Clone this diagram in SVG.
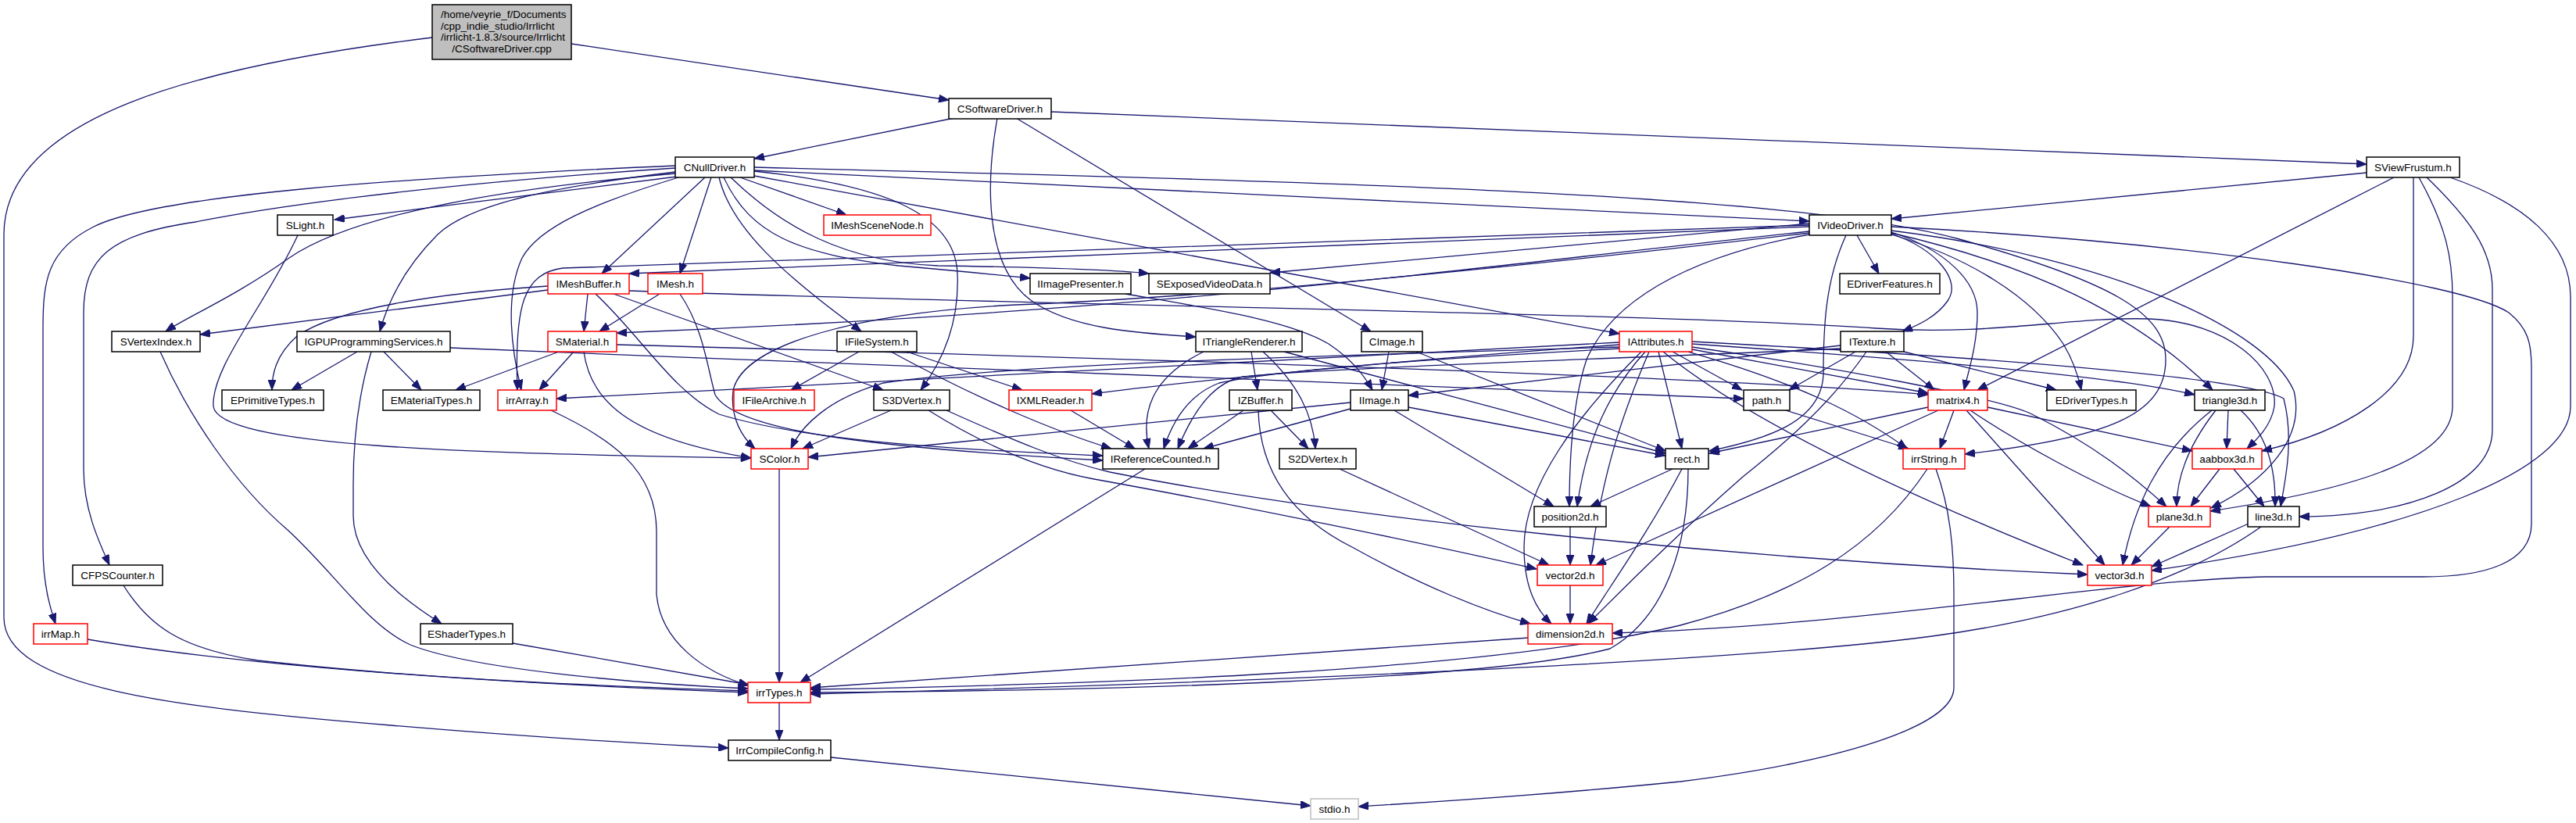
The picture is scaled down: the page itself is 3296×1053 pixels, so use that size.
<svg xmlns="http://www.w3.org/2000/svg" width="3296" height="1053" viewBox="0 0 3296 1053">
<defs>
<marker id="a" markerWidth="14" markerHeight="10" refX="13" refY="5" orient="auto" markerUnits="userSpaceOnUse"><path d="M0,0 L13,5 L0,10 z" fill="#191970" stroke="#191970" stroke-width="1"/></marker>
<style>
.n rect{fill:#fff;stroke:#000;stroke-width:1.5}
.n.r rect{stroke:#ff0000}
.n.g rect{stroke:#bfbfbf}
.root rect{fill:#bfbfbf;stroke:#000;stroke-width:1.5}
text{font-family:"Liberation Sans",Arial,sans-serif;font-size:13.5px;text-anchor:middle;fill:#000}
.root text.l{text-anchor:start}
.e path{fill:none;stroke:#191970;stroke-width:1.3;marker-end:url(#a)}
</style>
</defs>
<rect width="3296" height="1053" fill="#fff"/>
<g id="edges" class="e">
<path d="M731,56 L1214,128"/>
<path d="M553,48 C250,85 5,150 5,300 L5,790 C5,880 220,905 500,928 C700,945 850,953 932,957"/>
<path d="M1221,151 L965,203"/>
<path d="M1345,143 L3028,210"/>
<path d="M1276,151 C1262,230 1258,340 1320,385 C1370,420 1450,426 1530,431"/>
<path d="M1300,151 L1754,424"/>
<path d="M965,218 L2315,283"/>
<path d="M965,214 C1800,235 2300,250 2507,306 C2700,360 2771,400 2771,460 C2771,530 2700,560 2514,581"/>
<path d="M920,227 C935,290 1000,350 1102,424"/>
<path d="M926,227 C960,300 1020,325 1150,340 C1230,347 1280,352 1318,356"/>
<path d="M935,227 C1000,290 1080,335 1200,340 C1340,342 1420,345 1470,350"/>
<path d="M864,220 C700,240 600,262 560,300 C520,340 498,380 486,424"/>
<path d="M868,227 C760,260 690,290 668,330 C645,380 655,450 667,499"/>
<path d="M864,212 C500,228 200,250 120,290 C60,320 55,360 55,420 L55,700 C55,750 65,780 71,798"/>
<path d="M864,215 C520,238 330,268 250,284 C140,300 107,330 107,400 L107,600 C107,650 125,690 140,723"/>
<path d="M864,222 C600,245 440,282 370,330 C300,380 240,405 212,424"/>
<path d="M866,226 L428,281"/>
<path d="M902,227 L770,350"/>
<path d="M910,227 L870,350"/>
<path d="M947,227 L1083,275"/>
<path d="M965,219 C1120,235 1222,270 1225,350 C1228,420 1200,470 1178,499"/>
<path d="M965,225 L2072,427"/>
<path d="M3028,221 L2420,280"/>
<path d="M3063,227 L2530,499"/>
<path d="M3088,227 L3088,430 C3088,500 3000,552 2894,577"/>
<path d="M3095,227 C3130,290 3138,330 3138,380 L3138,520 C3138,590 3000,628 2828,654"/>
<path d="M3105,227 C3160,280 3189,320 3189,370 L3189,550 C3189,620 3080,660 2942,661"/>
<path d="M3135,227 C3230,260 3289,310 3289,380 L3289,520 C3289,600 3100,680 2753,730"/>
<path d="M2315,290 L805,350"/>
<path d="M2315,296 C1900,340 1500,398 789,426"/>
<path d="M2315,288 C1500,315 900,335 720,343 C670,350 658,390 662,499"/>
<path d="M2315,298 C2000,335 1600,378 1300,390 C1100,400 950,440 938,500 C934,535 950,560 966,574"/>
<path d="M2315,300 C2150,330 2060,390 2030,460 C2010,520 2008,600 2008,648"/>
<path d="M2362,301 C2335,360 2333,420 2333,480 C2330,540 2260,562 2187,577"/>
<path d="M2420,290 C2800,310 3150,360 3210,400 C3235,420 3239,440 3239,470 L3239,670 C3239,720 3180,738 3100,738 L2900,738 C2700,742 2400,800 2063,810"/>
<path d="M2420,299 C2480,320 2510,360 2492,385 C2478,405 2455,416 2434,424"/>
<path d="M2376,301 L2404,350"/>
<path d="M2420,297 C2490,320 2530,360 2530,400 C2530,440 2520,470 2513,499"/>
<path d="M2420,300 C2520,330 2600,380 2640,440 C2655,465 2660,485 2663,499"/>
<path d="M2420,298 C2600,340 2730,400 2831,499"/>
<path d="M2420,295 C2700,330 2900,420 2935,500 C2950,560 2900,615 2829,650"/>
<path d="M2315,286 L1625,349"/>
<path d="M752,376 L747,424"/>
<path d="M701,371 L256,428"/>
<path d="M701,366 C560,375 430,395 380,430 C352,455 348,480 348,499"/>
<path d="M785,376 L1130,499"/>
<path d="M762,376 C820,430 860,500 920,530 C1050,570 1300,578 1411,583"/>
<path d="M805,372 C1300,390 2100,400 2400,420 C2550,430 2650,405 2750,408 C2850,412 2915,470 2910,520 C2906,545 2888,562 2875,574"/>
<path d="M844,376 L767,424"/>
<path d="M870,376 C900,420 905,470 915,505 C940,550 1100,572 1411,589"/>
<path d="M734,450 L690,499"/>
<path d="M715,450 L583,499"/>
<path d="M747,450 C755,510 800,560 961,586"/>
<path d="M789,441 C1500,460 2200,482 2467,505"/>
<path d="M705,525 C780,560 840,600 840,680 L840,760 C845,820 900,860 958,877"/>
<path d="M457,450 L373,499"/>
<path d="M491,450 L539,499"/>
<path d="M475,450 C460,500 452,560 452,620 L452,660 C452,720 520,770 565,798"/>
<path d="M576,445 C1200,470 1900,500 2231,510"/>
<path d="M205,450 C240,530 300,620 368,678 C430,735 470,800 525,825 C600,855 800,874 957,881"/>
<path d="M381,301 C340,390 270,470 273,520 C280,572 600,580 961,586"/>
<path d="M158,749 C190,800 230,830 330,845 C550,870 800,879 957,884"/>
<path d="M112,818 C300,850 600,873 957,886"/>
<path d="M656,823 L958,876"/>
<path d="M1063,969 L1677,1031"/>
<path d="M997,899 L997,947"/>
<path d="M997,600 L997,873"/>
<path d="M1465,600 L1024,873"/>
<path d="M1099,450 L1012,499"/>
<path d="M1160,450 L1308,499"/>
<path d="M1140,450 C1250,510 1350,552 1422,574"/>
<path d="M1370,525 L1452,574"/>
<path d="M1140,525 L1027,574"/>
<path d="M1211,525 C1300,565 1360,590 1420,604 C1700,660 2200,715 2671,735"/>
<path d="M1188,525 C1260,570 1330,600 1400,613 C1550,640 1800,690 1966,728"/>
<path d="M1601,450 L1609,499"/>
<path d="M1616,450 C1660,490 1680,530 1683,574"/>
<path d="M1540,450 C1480,480 1458,520 1470,574"/>
<path d="M1643,450 L2131,580"/>
<path d="M1626,525 L1674,574"/>
<path d="M1591,525 L1520,574"/>
<path d="M1610,525 C1612,600 1650,660 1730,700 C1820,750 1900,782 1958,798"/>
<path d="M1714,600 L1982,723"/>
<path d="M1777,450 L1768,499"/>
<path d="M1812,450 L2131,577"/>
<path d="M1784,525 L1988,648"/>
<path d="M1802,521 L2131,583"/>
<path d="M1728,523 L1540,574"/>
<path d="M1728,515 L1034,585"/>
<path d="M1440,376 C1550,395 1650,410 1700,440 C1730,460 1745,480 1756,499"/>
<path d="M2374,450 L2289,499"/>
<path d="M2413,450 L2475,499"/>
<path d="M2436,450 L2631,499"/>
<path d="M2388,450 C2340,520 2280,570 2230,610 C2150,680 2080,750 2032,798"/>
<path d="M2355,442 L1802,506"/>
<path d="M2355,446 C2100,458 1700,470 1590,482 C1550,490 1525,530 1507,574"/>
<path d="M2072,446 C1900,455 1650,470 1560,490 C1520,505 1500,540 1489,574"/>
<path d="M2072,444 C1700,455 1300,465 1130,490 C1060,510 1025,545 1012,574"/>
<path d="M2072,438 L712,510"/>
<path d="M2072,441 C1800,460 1500,490 1397,504"/>
<path d="M2105,450 C2060,500 2030,560 2018,648"/>
<path d="M2110,450 C2080,520 2050,600 2035,723"/>
<path d="M2100,450 C2020,530 1950,620 1950,700 C1950,750 1965,780 1985,798"/>
<path d="M2122,450 L2152,574"/>
<path d="M2140,450 L2229,499"/>
<path d="M2128,450 C2250,550 2480,650 2665,723"/>
<path d="M2160,450 C2300,490 2380,530 2440,574"/>
<path d="M2165,447 L2467,503"/>
<path d="M2165,444 C2350,470 2560,510 2600,530 C2680,570 2730,610 2772,648"/>
<path d="M2165,440 C2450,460 2700,480 2808,505"/>
<path d="M2165,437 C2500,455 2870,480 2922,510 C2935,560 2925,610 2918,648"/>
<path d="M2500,525 L2482,574"/>
<path d="M2516,525 L2693,723"/>
<path d="M2521,525 C2580,565 2680,620 2752,648"/>
<path d="M2543,521 L2805,577"/>
<path d="M2467,521 L2187,580"/>
<path d="M2480,525 L2042,723"/>
<path d="M2477,600 C2495,650 2500,700 2500,760 L2500,880 C2500,930 2350,975 2150,1000 C1950,1020 1800,1028 1738,1032"/>
<path d="M2466,600 C2400,700 2300,760 2150,800 C1900,860 1400,876 1037,882"/>
<path d="M1956,816 L1037,880"/>
<path d="M2140,600 L2035,648"/>
<path d="M2152,600 C2110,680 2060,750 2030,798"/>
<path d="M2160,600 C2160,700 2130,790 2060,830 C1900,872 1400,884 1037,886"/>
<path d="M2009,749 L2009,798"/>
<path d="M2009,674 L2009,723"/>
<path d="M2835,525 C2800,570 2785,610 2785,648"/>
<path d="M2830,525 C2760,580 2730,650 2716,723"/>
<path d="M2851,525 L2849,574"/>
<path d="M2867,525 C2900,555 2912,600 2911,648"/>
<path d="M2840,600 L2803,648"/>
<path d="M2858,600 L2897,648"/>
<path d="M2776,674 L2727,723"/>
<path d="M2877,670 L2753,725"/>
<path d="M2893,674 C2800,740 2650,790 2472,814 C2200,850 1500,876 1037,888"/>
<path d="M2285,525 L2442,574"/>
</g>
<g id="n_root" class="root"><rect x="553" y="6" width="178" height="70"/><text class="l" x="564" y="23">/home/veyrie_f/Documents</text><text class="l" x="564" y="37.5">/cpp_indie_studio/Irrlicht</text><text class="l" x="564" y="52">/irrlicht-1.8.3/source/Irrlicht</text><text x="642" y="67">/CSoftwareDriver.cpp</text></g>
<g id="n_CSoftwareDriver" class="n"><rect x="1214" y="126" width="131" height="26"/><text x="1279.5" y="144">CSoftwareDriver.h</text></g>
<g id="n_CNullDriver" class="n"><rect x="864" y="201" width="101" height="26"/><text x="914.5" y="219">CNullDriver.h</text></g>
<g id="n_SViewFrustum" class="n"><rect x="3028" y="201" width="119" height="26"/><text x="3087.5" y="219">SViewFrustum.h</text></g>
<g id="n_SLight" class="n"><rect x="355" y="275" width="71" height="26"/><text x="390.5" y="293">SLight.h</text></g>
<g id="n_IMeshSceneNode" class="n r"><rect x="1054" y="275" width="137" height="26"/><text x="1122.5" y="293">IMeshSceneNode.h</text></g>
<g id="n_IVideoDriver" class="n"><rect x="2315" y="275" width="105" height="26"/><text x="2367.5" y="293">IVideoDriver.h</text></g>
<g id="n_IMeshBuffer" class="n r"><rect x="701" y="350" width="104" height="26"/><text x="753" y="368">IMeshBuffer.h</text></g>
<g id="n_IMesh" class="n r"><rect x="829" y="350" width="70" height="26"/><text x="864" y="368">IMesh.h</text></g>
<g id="n_IImagePresenter" class="n"><rect x="1318" y="350" width="129" height="26"/><text x="1382.5" y="368">IImagePresenter.h</text></g>
<g id="n_SExposedVideoData" class="n"><rect x="1470" y="350" width="155" height="26"/><text x="1547.5" y="368">SExposedVideoData.h</text></g>
<g id="n_EDriverFeatures" class="n"><rect x="2354" y="350" width="128" height="26"/><text x="2418" y="368">EDriverFeatures.h</text></g>
<g id="n_SVertexIndex" class="n"><rect x="143" y="424" width="113" height="26"/><text x="199.5" y="442">SVertexIndex.h</text></g>
<g id="n_IGPUProgrammingServices" class="n"><rect x="380" y="424" width="196" height="26"/><text x="478" y="442">IGPUProgrammingServices.h</text></g>
<g id="n_SMaterial" class="n r"><rect x="701" y="424" width="88" height="26"/><text x="745" y="442">SMaterial.h</text></g>
<g id="n_IFileSystem" class="n"><rect x="1071" y="424" width="102" height="26"/><text x="1122" y="442">IFileSystem.h</text></g>
<g id="n_ITriangleRenderer" class="n"><rect x="1530" y="424" width="136" height="26"/><text x="1598" y="442">ITriangleRenderer.h</text></g>
<g id="n_CImage" class="n"><rect x="1742" y="424" width="78" height="26"/><text x="1781" y="442">CImage.h</text></g>
<g id="n_IAttributes" class="n r"><rect x="2072" y="424" width="93" height="26"/><text x="2118.5" y="442">IAttributes.h</text></g>
<g id="n_ITexture" class="n"><rect x="2355" y="424" width="81" height="26"/><text x="2395.5" y="442">ITexture.h</text></g>
<g id="n_EPrimitiveTypes" class="n"><rect x="284" y="499" width="130" height="26"/><text x="349" y="517">EPrimitiveTypes.h</text></g>
<g id="n_EMaterialTypes" class="n"><rect x="490" y="499" width="124" height="26"/><text x="552" y="517">EMaterialTypes.h</text></g>
<g id="n_irrArray" class="n r"><rect x="637" y="499" width="75" height="26"/><text x="674.5" y="517">irrArray.h</text></g>
<g id="n_IFileArchive" class="n r"><rect x="939" y="499" width="103" height="26"/><text x="990.5" y="517">IFileArchive.h</text></g>
<g id="n_S3DVertex" class="n"><rect x="1118" y="499" width="97" height="26"/><text x="1166.5" y="517">S3DVertex.h</text></g>
<g id="n_IXMLReader" class="n r"><rect x="1291" y="499" width="106" height="26"/><text x="1344" y="517">IXMLReader.h</text></g>
<g id="n_IZBuffer" class="n"><rect x="1573" y="499" width="80" height="26"/><text x="1613" y="517">IZBuffer.h</text></g>
<g id="n_IImage" class="n"><rect x="1728" y="499" width="74" height="26"/><text x="1765" y="517">IImage.h</text></g>
<g id="n_path" class="n"><rect x="2231" y="499" width="59" height="26"/><text x="2260.5" y="517">path.h</text></g>
<g id="n_matrix4" class="n r"><rect x="2467" y="499" width="76" height="26"/><text x="2505" y="517">matrix4.h</text></g>
<g id="n_EDriverTypes" class="n"><rect x="2619" y="499" width="114" height="26"/><text x="2676" y="517">EDriverTypes.h</text></g>
<g id="n_triangle3d" class="n"><rect x="2808" y="499" width="90" height="26"/><text x="2853" y="517">triangle3d.h</text></g>
<g id="n_SColor" class="n r"><rect x="961" y="574" width="73" height="26"/><text x="997.5" y="592">SColor.h</text></g>
<g id="n_IReferenceCounted" class="n"><rect x="1411" y="574" width="148" height="26"/><text x="1485" y="592">IReferenceCounted.h</text></g>
<g id="n_S2DVertex" class="n"><rect x="1637" y="574" width="98" height="26"/><text x="1686" y="592">S2DVertex.h</text></g>
<g id="n_rect" class="n"><rect x="2131" y="574" width="55" height="26"/><text x="2158.5" y="592">rect.h</text></g>
<g id="n_irrString" class="n r"><rect x="2435" y="574" width="79" height="26"/><text x="2474.5" y="592">irrString.h</text></g>
<g id="n_aabbox3d" class="n r"><rect x="2805" y="574" width="89" height="26"/><text x="2849.5" y="592">aabbox3d.h</text></g>
<g id="n_position2d" class="n"><rect x="1963" y="648" width="92" height="26"/><text x="2009" y="666">position2d.h</text></g>
<g id="n_plane3d" class="n r"><rect x="2749" y="648" width="79" height="26"/><text x="2788.5" y="666">plane3d.h</text></g>
<g id="n_line3d" class="n"><rect x="2876" y="648" width="66" height="26"/><text x="2909" y="666">line3d.h</text></g>
<g id="n_CFPSCounter" class="n"><rect x="93" y="723" width="115" height="26"/><text x="150.5" y="741">CFPSCounter.h</text></g>
<g id="n_vector2d" class="n r"><rect x="1967" y="723" width="84" height="26"/><text x="2009" y="741">vector2d.h</text></g>
<g id="n_vector3d" class="n r"><rect x="2671" y="723" width="82" height="26"/><text x="2712" y="741">vector3d.h</text></g>
<g id="n_irrMap" class="n r"><rect x="43" y="798" width="69" height="26"/><text x="77.5" y="816">irrMap.h</text></g>
<g id="n_EShaderTypes" class="n"><rect x="538" y="798" width="118" height="26"/><text x="597" y="816">EShaderTypes.h</text></g>
<g id="n_dimension2d" class="n r"><rect x="1955" y="798" width="108" height="26"/><text x="2009" y="816">dimension2d.h</text></g>
<g id="n_irrTypes" class="n r"><rect x="957" y="873" width="80" height="26"/><text x="997" y="891">irrTypes.h</text></g>
<g id="n_IrrCompileConfig" class="n"><rect x="932" y="947" width="131" height="26"/><text x="997.5" y="965">IrrCompileConfig.h</text></g>
<g id="n_stdio" class="n g"><rect x="1677" y="1022" width="61" height="26"/><text x="1707.5" y="1040">stdio.h</text></g>
</svg>
